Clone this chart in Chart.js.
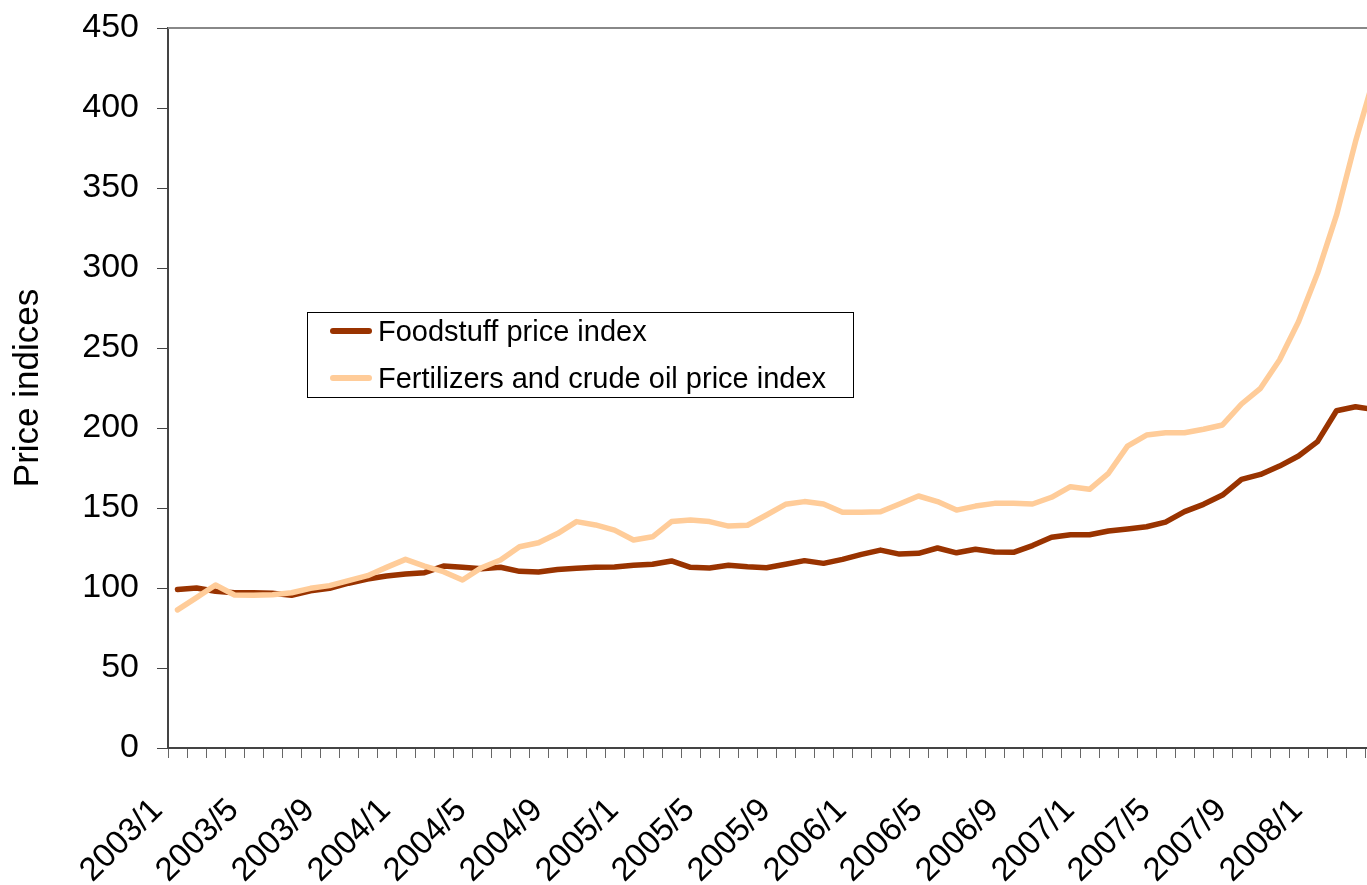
<!DOCTYPE html>
<html>
<head>
<meta charset="utf-8">
<script src="https://cdn.jsdelivr.net/npm/chart.js@4.4.1/dist/chart.umd.min.js"></script>
<style>
  html, body { margin: 0; padding: 0; background: #fff; overflow: hidden; }
  #wrap { position: absolute; left: 0; top: 0; width: 1400px; height: 885px; }
  #legend {
    position: absolute; left: 307px; top: 312px; width: 547px; height: 86px;
    border: 1px solid #000; background: #fff; box-sizing: border-box;
    font-family: "Liberation Sans", Arial, sans-serif; font-size: 29px; color: #000;
  }
  #legend .row { position: absolute; left: 22px; height: 40px; display: flex; align-items: center; }
  #legend .swatch { width: 42px; height: 6px; border-radius: 3px; margin-right: 6px; }
</style>
</head>
<body>
<div id="wrap">
  <canvas id="chart" width="1400" height="885"></canvas>
  <div id="legend"></div>
</div>
<script>
const months = [
  "2003/1","2003/2","2003/3","2003/4","2003/5","2003/6","2003/7","2003/8","2003/9","2003/10","2003/11","2003/12",
  "2004/1","2004/2","2004/3","2004/4","2004/5","2004/6","2004/7","2004/8","2004/9","2004/10","2004/11","2004/12",
  "2005/1","2005/2","2005/3","2005/4","2005/5","2005/6","2005/7","2005/8","2005/9","2005/10","2005/11","2005/12",
  "2006/1","2006/2","2006/3","2006/4","2006/5","2006/6","2006/7","2006/8","2006/9","2006/10","2006/11","2006/12",
  "2007/1","2007/2","2007/3","2007/4","2007/5","2007/6","2007/7","2007/8","2007/9","2007/10","2007/11","2007/12",
  "2008/1","2008/2","2008/3","2008/4"
];

const shownLabels = ["2003/1","2003/5","2003/9","2004/1","2004/5","2004/9","2005/1","2005/5",
  "2005/9","2006/1","2006/5","2006/9","2007/1","2007/5","2007/9","2008/1"];

const foodstuff = [
  99, 100, 98, 97, 97, 96.7, 95.4, 98.3, 99.8, 103, 105.6, 107.5,
  108.7, 109.6, 113.7, 112.9, 112, 113, 110.4, 110, 111.5, 112.3, 112.9, 113.1,
  114.2, 114.8, 116.9, 112.9, 112.5, 114.2, 113.3, 112.7, 114.8, 117.1, 115.4, 117.9,
  121, 123.7, 121.2, 121.7, 125, 122, 124.2, 122.5, 122.3, 126.5, 131.7, 133.3,
  133.3, 135.6, 136.9, 138.3, 141.2, 147.7, 152.3, 158.1, 167.9, 171, 176.2, 182.5,
  191.5, 210.8, 213.3, 211.5
];

const fertOil = [
  86.3, 94, 101.9, 95.6, 95.4, 95.8, 97, 99.8, 101.5, 104.6, 107.7, 112.9,
  117.9, 113.7, 110.2, 105, 112.7, 117.5, 125.8, 128.3, 134, 141.5, 139.4, 136.2,
  130, 132, 141.5, 142.5, 141.5, 138.7, 139.2, 145.6, 152.3, 154, 152.5, 147.3,
  147.3, 147.7, 152.5, 157.5, 154, 148.7, 151.2, 152.9, 152.9, 152.5, 156.7, 163.3,
  161.7, 171.7, 188.7, 195.6, 197, 197, 199.2, 201.9, 215, 224.8, 242.5, 266.4,
  296.7, 333, 379, 420
];

const seriesNames = ["Foodstuff price index", "Fertilizers and crude oil price index"];
const seriesColors = ["#993300", "#FFCC99"];

const FONT = "'Liberation Sans', Arial, sans-serif";

// plot area border (top / right) like the Excel plot frame
const frame = {
  id: "frame",
  afterDraw(chart) {
    const { ctx, chartArea: a } = chart;
    ctx.save();
    ctx.strokeStyle = "#888";
    ctx.lineWidth = 2;
    ctx.beginPath();
    ctx.moveTo(a.left, a.top);
    ctx.lineTo(a.right, a.top);
    ctx.lineTo(a.right, a.bottom);
    ctx.stroke();
    ctx.restore();
  }
};

new Chart(document.getElementById("chart"), {
  type: "line",
  data: {
    labels: months,
    datasets: [
      { label: seriesNames[0], data: foodstuff, borderColor: seriesColors[0], order: 1 },
      { label: seriesNames[1], data: fertOil, borderColor: seriesColors[1], order: 0 }
    ]
  },
  options: {
    responsive: false,
    animation: false,
    layout: { padding: { left: 0, top: 28, right: 16, bottom: 0 } },
    elements: {
      line: { borderWidth: 5.5, tension: 0, borderJoinStyle: "round", borderCapStyle: "round" },
      point: { radius: 0, hoverRadius: 0 }
    },
    plugins: { legend: { display: false }, tooltip: { enabled: false } },
    scales: {
      x: {
        offset: true,
        afterFit(s) { s.height = 137; s.paddingLeft = 0; s.paddingRight = 0; },
        grid: { offset: true, drawOnChartArea: false, drawTicks: true, tickLength: 10, color: "#666", lineWidth: 1 },
        border: { display: true, color: "#444", width: 2 },
        ticks: {
          autoSkip: false, maxRotation: 45, minRotation: 45, padding: 33, labelOffset: -20,
          color: "#000", font: { family: FONT, size: 33 },
          callback(v, i) { return shownLabels.includes(months[i]) ? months[i] : ""; }
        }
      },
      y: {
        min: 0, max: 450,
        afterFit(s) { s.width = 168; s.paddingTop = 0; s.paddingBottom = 0; },
        grid: { drawOnChartArea: false, drawTicks: true, tickLength: 11, color: "#444", lineWidth: 1 },
        border: { display: true, color: "#444", width: 2 },
        ticks: { stepSize: 50, padding: 18, color: "#000", font: { family: FONT, size: 34 } },
        title: { display: true, text: "Price indices", color: "#000", font: { family: FONT, size: 35 }, padding: { top: 7, bottom: 0 } }
      }
    }
  },
  plugins: [frame]
});

// legend as HTML text, built from the series names/colours
const legend = document.getElementById("legend");
seriesNames.forEach((name, i) => {
  const row = document.createElement("div");
  row.className = "row";
  row.style.top = (-2 + i * 47) + "px";
  row.innerHTML = '<span class="swatch" style="background:' + seriesColors[i] + '"></span><span>' + name + "</span>";
  legend.appendChild(row);
});
</script>
</body>
</html>
